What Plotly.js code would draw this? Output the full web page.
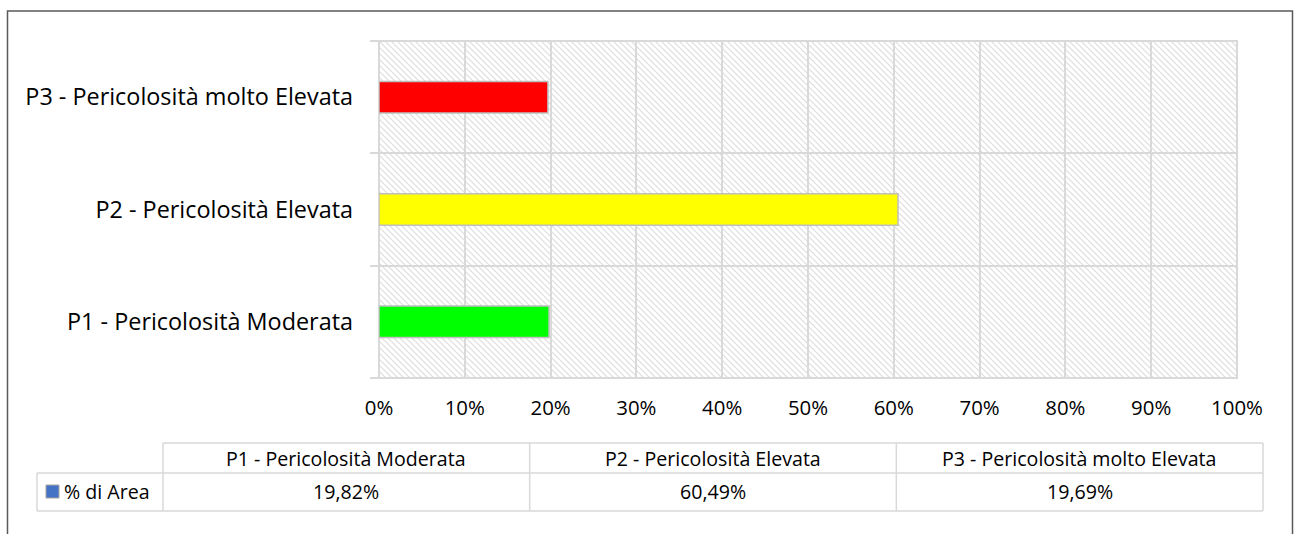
<!DOCTYPE html>
<html>
<head>
<meta charset="utf-8">
<script src="https://cdn.plot.ly/plotly-3.0.1.min.js"></script>
<style>
html,body{margin:0;padding:0;background:#fff;}
#chart{width:1299px;height:534px;}
</style>
</head>
<body>
<div id="chart"></div>
<script>
// ---- data ----
var categories = ["P1 - Pericolosità Moderata", "P2 - Pericolosità Elevata", "P3 - Pericolosità molto Elevata"];
var values = [19.82, 60.49, 19.69];
var barColors = ["#00FF00", "#FFFF00", "#FF0000"];
var seriesName = "% di Area";
var xTickVals = [0, 10, 20, 30, 40, 50, 60, 70, 80, 90, 100];

// ---- geometry helpers (pixel -> paper) ----
var W = 1299, H = 534;
var PL = 379, PR = 1237, PT = 41, PB = 378;
function px(x){ return (x - PL) / (PR - PL); }
function py(y){ return (PB - y) / (PB - PT); }

var FONT = "'Open Sans', 'Noto Sans', sans-serif";
var gridCol = "#d9d9d9";

// hatch pattern background (SVG data URI)
var pw = PR - PL, ph = PB - PT;
var svg = '<svg xmlns="http://www.w3.org/2000/svg" width="' + pw + '" height="' + ph + '" viewBox="0 0 ' + pw + ' ' + ph + '">' +
  '<defs><pattern id="h" patternUnits="userSpaceOnUse" width="6" height="6">' +
  '<path d="M-1,-1 L7,7 M-4,2 L2,8 M2,-4 L8,2" stroke="#dddddd" stroke-width="1.2"/></pattern></defs>' +
  '<rect width="100%" height="100%" fill="url(#h)"/></svg>';
var hatchSrc = "data:image/svg+xml;charset=utf-8," + encodeURIComponent(svg);

var traces = [{
  type: "bar",
  orientation: "h",
  name: seriesName,
  y: categories,
  x: values,
  width: 0.28,
  marker: { color: barColors, line: { color: "#bfbfbf", width: 1.5 } },
  hoverinfo: "x+y",
  showlegend: false
}];

// ---- table (shapes + annotations) ----
var shapes = [];
var annotations = [];
var lineStyle = { color: gridCol, width: 1.5 };
function hline(x0, x1, y){ shapes.push({type:"line", xref:"paper", yref:"paper", x0:px(x0), x1:px(x1), y0:py(y), y1:py(y), line:lineStyle}); }
function vline(x, y0, y1){ shapes.push({type:"line", xref:"paper", yref:"paper", x0:px(x), x1:px(x), y0:py(y0), y1:py(y1), line:lineStyle}); }

// plot-area border lines (category boundaries top/bottom and 100% edge)
shapes.push({type:"rect", xref:"paper", yref:"paper", x0:0, x1:1, y0:0, y1:1, layer:"below",
  line:{color:gridCol, width:2}, fillcolor:"rgba(0,0,0,0)"});
// left tick extensions at top and bottom boundaries
shapes.push({type:"line", xref:"paper", yref:"paper", x0:px(371), x1:0, y0:1, y1:1, line:{color:gridCol, width:2}});
shapes.push({type:"line", xref:"paper", yref:"paper", x0:px(371), x1:0, y0:0, y1:0, line:{color:gridCol, width:2}});

var tLeft = 37, tFirst = 163, tRight = 1263;
var rTop = 443, rMid = 473, rBot = 511;
var colW = (tRight - tFirst) / categories.length;

hline(tFirst, tRight, rTop);
hline(tLeft, tRight, rMid);
hline(tLeft, tRight, rBot);
vline(tLeft, rMid, rBot);
for (var i = 0; i <= categories.length; i++) {
  vline(tFirst + i * colW, rTop, rBot);
}
var TFS = 19.6;
for (var j = 0; j < categories.length; j++) {
  var cx = tFirst + (j + 0.5) * colW;
  annotations.push({xref:"paper", yref:"paper", x:px(cx), y:py((rTop + rMid) / 2), text:categories[j],
    showarrow:false, xanchor:"center", yanchor:"middle", font:{family:FONT, size:TFS, color:"#000"}});
  annotations.push({xref:"paper", yref:"paper", x:px(cx), y:py((rMid + rBot) / 2), text:values[j].toFixed(2).replace(".", ",") + "%",
    showarrow:false, xanchor:"center", yanchor:"middle", font:{family:FONT, size:TFS, color:"#000"}});
}
// legend key
shapes.push({type:"rect", xref:"paper", yref:"paper", x0:px(46), x1:px(59), y0:py(498), y1:py(485),
  fillcolor:"#4472C4", line:{color:"#a6a6a6", width:1}});
annotations.push({xref:"paper", yref:"paper", x:px(62), y:py((rMid + rBot) / 2), text:seriesName,
  showarrow:false, xanchor:"left", yanchor:"middle", font:{family:FONT, size:TFS, color:"#000"}});

// outer frame
shapes.push({type:"rect", xref:"paper", yref:"paper", x0:px(7.5), x1:px(1292.5), y0:py(545), y1:py(11),
  line:{color:"#595959", width:1.5}, fillcolor:"rgba(0,0,0,0)"});

var layout = {
  width: W, height: H,
  margin: { l: PL, r: W - PR, t: PT, b: H - PB, pad: 0 },
  paper_bgcolor: "#fff",
  plot_bgcolor: "rgba(0,0,0,0)",
  showlegend: false,
  font: { family: FONT, size: 19, color: "#000" },
  xaxis: {
    range: [0, 100],
    tickvals: xTickVals,
    ticktext: xTickVals.map(function(v){ return v + "%"; }),
    showgrid: true, gridcolor: gridCol, gridwidth: 2,
    zeroline: false, showline: false,
    ticks: "", ticklabelstandoff: 16,
    tickfont: { family: FONT, size: 20.4, color: "#000" },
    fixedrange: true
  },
  yaxis: {
    type: "category",
    categoryorder: "array", categoryarray: categories,
    range: [-0.5, 2.5],
    tickson: "boundaries",
    showgrid: true, gridcolor: gridCol, gridwidth: 2,
    ticks: "outside", ticklen: 8, tickcolor: gridCol, tickwidth: 2,
    showline: false, zeroline: false,
    ticklabelstandoff: 25,
    tickfont: { family: FONT, size: 23.4, color: "#000" },
    fixedrange: true
  },
  images: [{ source: hatchSrc, xref: "paper", yref: "paper", x: 0, y: 1, sizex: 1, sizey: 1,
    xanchor: "left", yanchor: "top", sizing: "stretch", layer: "below" }],
  shapes: shapes,
  annotations: annotations,
  bargap: 0.72
};

Plotly.newPlot("chart", traces, layout, { displayModeBar: false, staticPlot: true });
</script>
</body>
</html>
